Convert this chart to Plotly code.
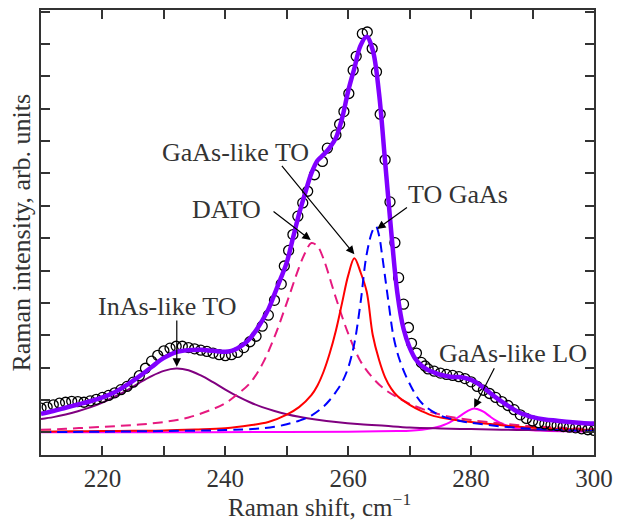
import plotly.graph_objects as go

# ---------------- data ----------------
x_obs = [210, 211, 212, 213, 214, 215, 216, 217, 218, 219, 220, 221, 222, 223, 224, 225,
         226, 227, 228, 229, 230, 231, 232, 233, 234, 235, 236, 237, 238, 239, 240, 241,
         242, 243, 244, 245, 246, 247, 248,
         249.1, 249.6, 250.3, 251.0, 251.8, 252.6, 253.4, 254.5, 255.8, 256.6, 258.0,
         258.6, 259.3, 260.1, 260.8, 261.3, 262.3, 263.1, 263.9, 264.6, 265.2, 266.0,
         266.8, 267.6, 268.2, 269.0, 269.8, 270.3, 271.1, 271.9, 272.5,
         273, 274, 275, 276, 277, 278, 279, 280, 281, 282, 283, 284, 285, 286, 287, 288,
         289, 290, 291, 292, 293, 294, 295, 296, 297, 298, 299, 300]
y_obs = [0.75, 0.78, 0.85, 0.90, 0.93, 0.96, 0.95, 0.93, 0.97, 1.02, 1.08, 1.14, 1.22, 1.32, 1.42, 1.55,
         1.75, 1.98, 2.20, 2.38, 2.52, 2.60, 2.66, 2.66, 2.62, 2.58, 2.54, 2.50, 2.45, 2.40, 2.37, 2.40,
         2.47, 2.62, 2.80, 2.97, 3.28, 3.62, 4.08,
         4.58, 5.14, 5.62, 6.11, 6.68, 7.09, 7.45, 7.96, 8.37, 8.78, 9.19,
         9.52, 9.91, 10.47, 11.19, 11.62, 12.32, 12.37, 11.86, 11.14, 9.83, 8.42,
         7.12, 5.86, 4.78, 3.96, 3.24, 2.75, 2.45, 2.16, 2.05,
         1.96, 1.89, 1.83, 1.79, 1.76, 1.72, 1.66, 1.56, 1.42, 1.30, 1.20, 1.08, 0.95, 0.83, 0.70, 0.54,
         0.43, 0.35, 0.30, 0.26, 0.23, 0.21, 0.18, 0.16, 0.14, 0.11, 0.08, 0.06]

x_fit = [210, 212, 214, 216, 218, 220, 222, 224, 226, 228, 230, 232, 234, 236, 238, 240, 241,
         242, 243, 244, 245, 246, 247, 248, 249, 250, 251, 252, 253, 254, 255, 256, 257, 258,
         259, 260, 261, 262, 263, 264, 265, 266, 267, 268, 269, 270, 271, 272, 273, 274, 275,
         276, 277, 278, 279, 280, 281, 282, 283, 284, 285, 286, 287, 288, 289, 290, 292, 294,
         296, 298, 300]
y_fit = [0.57, 0.66, 0.76, 0.86, 0.96, 1.08, 1.24, 1.47, 1.73, 2.02, 2.30, 2.48, 2.54, 2.55, 2.52, 2.49, 2.52,
         2.60, 2.72, 2.90, 3.15, 3.45, 3.80, 4.27, 4.75, 5.25, 6.00, 6.75, 7.40, 8.00, 8.40, 8.58, 8.80, 9.10,
         9.70, 10.55, 11.25, 11.95, 12.22, 11.80, 10.50, 8.37, 6.20, 4.30, 3.20, 2.62, 2.25, 2.05, 1.93, 1.85, 1.78,
         1.74, 1.71, 1.71, 1.68, 1.62, 1.52, 1.38, 1.23, 1.08, 0.95, 0.82, 0.70, 0.60, 0.53, 0.47, 0.40, 0.36,
         0.32, 0.29, 0.27]

x_inas = [210, 212, 214, 216, 218, 220, 222, 224, 226, 228, 230, 232, 234, 236, 238, 240, 242, 244,
          246, 248, 250, 252, 255, 258, 262, 266, 270, 275, 280, 285, 290, 295, 300]
y_inas = [0.41, 0.47, 0.55, 0.65, 0.77, 0.92, 1.10, 1.30, 1.53, 1.74, 1.90, 1.97, 1.92, 1.76, 1.55, 1.32, 1.11, 0.93,
          0.78, 0.66, 0.56, 0.48, 0.39, 0.32, 0.25, 0.20, 0.15, 0.12, 0.10, 0.08, 0.07, 0.06, 0.05]

x_dato = [210, 214, 218, 222, 226, 230, 234, 238, 240, 242, 244, 246, 248, 250, 252, 253, 254, 255,
          256, 258, 260, 262, 264, 266, 268, 270, 273, 276, 280, 285, 290, 295, 300]
y_dato = [0.08, 0.11, 0.15, 0.19, 0.24, 0.32, 0.46, 0.72, 0.90, 1.18, 1.52, 2.10, 2.95, 4.00, 5.10, 5.55, 5.85, 5.75,
          5.35, 4.15, 3.05, 2.20, 1.68, 1.32, 1.08, 0.88, 0.66, 0.50, 0.38, 0.27, 0.19, 0.14, 0.10]

x_gto = [210, 215, 220, 225, 230, 235, 240, 244, 247, 250, 252, 254, 255, 256, 257, 258, 259, 260,
         261, 262, 263, 264, 265, 266, 267, 268, 270, 272, 274, 277, 280, 285, 290, 295, 300]
y_gto = [0.02, 0.03, 0.04, 0.05, 0.06, 0.09, 0.13, 0.22, 0.32, 0.55, 0.78, 1.15, 1.45, 1.88, 2.45, 3.15, 4.00, 4.85,
         5.38, 4.95, 4.35, 3.00, 2.25, 1.70, 1.35, 1.12, 0.85, 0.65, 0.50, 0.40, 0.32, 0.22, 0.14, 0.10, 0.07]

x_togaas = [210, 220, 230, 240, 245, 248, 250, 252, 254, 256, 257, 258, 259, 260, 261, 262, 263, 264,
            264.5, 265, 265.5, 266, 266.6, 267.4, 268.4, 270, 272, 275, 278, 281, 285, 290, 295, 300]
y_togaas = [0.01, 0.02, 0.04, 0.07, 0.11, 0.17, 0.25, 0.36, 0.52, 0.80, 1.00, 1.25, 1.55, 2.00, 2.75, 4.00, 5.50, 6.25,
            6.37, 6.10, 5.50, 4.80, 3.96, 2.93, 2.22, 1.50, 0.90, 0.52, 0.36, 0.27, 0.18, 0.11, 0.07, 0.05]

x_lo = [210, 230, 250, 260, 265, 268, 270, 272, 274, 275, 276, 277, 278, 279, 280, 280.5, 281, 282,
        283, 284, 285, 286.7, 289, 292, 296, 300]
y_lo = [0.0, 0.0, 0.01, 0.02, 0.03, 0.04, 0.05, 0.08, 0.14, 0.19, 0.26, 0.36, 0.48, 0.61, 0.71, 0.74, 0.72, 0.64,
        0.50, 0.37, 0.27, 0.16, 0.08, 0.05, 0.03, 0.02]

x_tickvals = [220, 230, 240, 250, 260, 270, 280, 290, 300]
x_ticktext = ["220", "", "240", "", "260", "", "280", "", "300"]
y_tickvals = list(range(0, 14))

labels = ["GaAs-like TO", "DATO", "TO GaAs", "InAs-like TO", "GaAs-like LO"]
label_pos = [(241.6, 8.65), (240.2, 6.9), (277.9, 7.35), (230.5, 3.9), (286.8, 2.43)]
arrow_tail = [(249.0, 8.28), (247.6, 6.86), (269.8, 6.98), (232.1, 3.50), (283.9, 2.03)]
arrow_tip = [(261.0, 5.50), (253.9, 5.94), (264.7, 6.28), (232.1, 2.03), (280.5, 0.76)]

# ---------------- figure ----------------
TXT = "#333333"
FONT = "Liberation Serif, Times New Roman, serif"

fig = go.Figure()
fig.add_trace(go.Scatter(x=x_lo, y=y_lo, mode="lines", line=dict(color="#FF00FF", width=2, shape="spline")))
fig.add_trace(go.Scatter(x=x_inas, y=y_inas, mode="lines", line=dict(color="#800080", width=2, shape="spline")))
fig.add_trace(go.Scatter(x=x_dato, y=y_dato, mode="lines",
                         line=dict(color="#E6197F", width=2, dash="10px,6px", shape="spline")))
fig.add_trace(go.Scatter(x=x_gto, y=y_gto, mode="lines", line=dict(color="#FF0000", width=2, shape="spline")))
fig.add_trace(go.Scatter(x=x_togaas, y=y_togaas, mode="lines",
                         line=dict(color="#0000FF", width=2, dash="10px,6px", shape="spline")))
fig.add_trace(go.Scatter(x=x_obs, y=y_obs, mode="markers",
                         marker=dict(symbol="circle-open", size=10, color="black", line=dict(width=1.3, color="black"))))
fig.add_trace(go.Scatter(x=x_fit, y=y_fit, mode="lines", line=dict(color="#8000FF", width=4.5, shape="spline")))

for t, (lx, ly) in zip(labels, label_pos):
    fig.add_annotation(x=lx, y=ly, xref="x", yref="y", text=t, showarrow=False,
                       font=dict(family=FONT, size=26, color=TXT), xanchor="center", yanchor="middle")
for (tx, ty), (hx, hy) in zip(arrow_tail, arrow_tip):
    fig.add_annotation(x=hx, y=hy, ax=tx, ay=ty, xref="x", yref="y", axref="x", ayref="y",
                       text="", showarrow=True, arrowhead=2, arrowsize=1.4, arrowwidth=1.2,
                       arrowcolor="black", standoff=0, startstandoff=0)

fig.add_annotation(x=-0.036, y=0.5, xref="paper", yref="paper", text="Raman intensity, arb. units",
                   textangle=-90, showarrow=False, font=dict(family=FONT, size=26, color=TXT),
                   xanchor="center", yanchor="middle")
fig.add_annotation(x=0.503, y=-0.113, xref="paper", yref="paper", text="Raman shift, cm<sup>−1</sup>",
                   showarrow=False, font=dict(family=FONT, size=25, color=TXT),
                   xanchor="center", yanchor="middle")

fig.update_layout(
    width=621, height=523, showlegend=False,
    margin=dict(l=41, r=21, t=8, b=68),
    plot_bgcolor="white", paper_bgcolor="white",
    font=dict(family=FONT, size=25, color=TXT),
)
fig.update_xaxes(range=[210, 300], tickvals=x_tickvals, ticktext=x_ticktext,
                 ticks="inside", ticklen=9, tickwidth=1.5, tickcolor="#333333",
                 showline=True, linecolor="#333333", linewidth=2, mirror="ticks",
                 showgrid=False, zeroline=False, tickfont=dict(family=FONT, size=25, color=TXT))
fig.update_yaxes(range=[-0.7, 13.05], tickvals=y_tickvals, showticklabels=False,
                 ticks="inside", ticklen=9, tickwidth=1.5, tickcolor="#333333",
                 showline=True, linecolor="#333333", linewidth=2, mirror="ticks",
                 showgrid=False, zeroline=False)

fig.write_html("out.html")
